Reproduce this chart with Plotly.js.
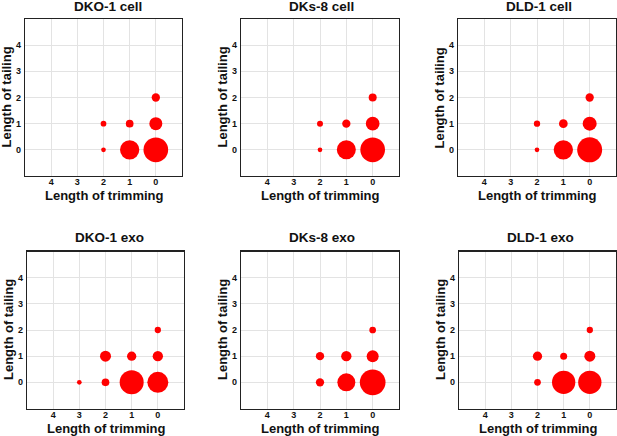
<!DOCTYPE html>
<html>
<head>
<meta charset="utf-8">
<script src="https://cdn.plot.ly/plotly-3.0.1.min.js"></script>
<style>html,body{margin:0;padding:0;background:#fff;}#chart{width:617px;height:436px;}</style>
</head>
<body>
<div id="chart"></div>
<script>
// Panel titles
const panelTitles = ["DKO-1 cell", "DKs-8 cell", "DLD-1 cell", "DKO-1 exo", "DKs-8 exo", "DLD-1 exo"];
const xTitle = "Length of trimming";
const yTitle = "Length of tailing";
const tickValues = [0, 1, 2, 3, 4];

// Data per panel: trimming length (x), tailing length (y), relative bubble size
const dko1CellTrim = [0, 1, 2, 0, 1, 2, 0];
const dko1CellTail = [0, 0, 0, 1, 1, 1, 2];
const dko1CellSize = [24.7, 19.3, 4.7, 13, 7.7, 5.7, 8.3];

const dks8CellTrim = [0, 1, 2, 0, 1, 2, 0];
const dks8CellTail = [0, 0, 0, 1, 1, 1, 2];
const dks8CellSize = [24.7, 19, 4.7, 13.7, 8.3, 6, 8];

const dld1CellTrim = [0, 1, 2, 0, 1, 2, 0];
const dld1CellTail = [0, 0, 0, 1, 1, 1, 2];
const dld1CellSize = [25, 19.3, 4.7, 14, 8.7, 6.3, 8.3];

const dko1ExoTrim = [0, 1, 2, 3, 0, 1, 2, 0];
const dko1ExoTail = [0, 0, 0, 0, 1, 1, 1, 2];
const dko1ExoSize = [21, 24, 7.7, 4.7, 10.3, 9.3, 11, 6.3];

const dks8ExoTrim = [0, 1, 2, 0, 1, 2, 0];
const dks8ExoTail = [0, 0, 0, 1, 1, 1, 2];
const dks8ExoSize = [25.7, 18, 8.3, 12, 10.3, 8.3, 6.7];

const dld1ExoTrim = [0, 1, 2, 0, 1, 2, 0];
const dld1ExoTail = [0, 0, 0, 1, 1, 1, 2];
const dld1ExoSize = [23.3, 23.3, 6.7, 11, 7, 9.3, 6.3];

const panels = [
  [dko1CellTrim, dko1CellTail, dko1CellSize],
  [dks8CellTrim, dks8CellTail, dks8CellSize],
  [dld1CellTrim, dld1CellTail, dld1CellSize],
  [dko1ExoTrim, dko1ExoTail, dko1ExoSize],
  [dks8ExoTrim, dks8ExoTail, dks8ExoSize],
  [dld1ExoTrim, dld1ExoTail, dld1ExoSize]
];

const W = 617, H = 436;
const FONT = "Liberation Sans, Arial, Helvetica, sans-serif";
// pixel boxes [left, right, top, bottom]
const boxes = [
  [25, 182, 19, 176], [241, 399, 19, 176], [458, 616, 19, 176],
  [27, 184, 251.5, 408.5], [241, 399, 251.5, 408.5], [459, 616, 251.5, 408.5]
];
const titleCx = [107.5, 321, 539, 109, 321.5, 540];

const data = [];
const layout = {
  width: W, height: H,
  margin: {l: 0, r: 0, t: 0, b: 0},
  paper_bgcolor: "#fff", plot_bgcolor: "#fff",
  showlegend: false,
  font: {family: FONT, color: "#000"},
  annotations: []
};

panels.forEach((p, i) => {
  const n = i === 0 ? "" : String(i + 1);
  const b = boxes[i];
  data.push({
    type: "scatter", mode: "markers",
    x: p[0], y: p[1],
    xaxis: "x" + n, yaxis: "y" + n,
    marker: {size: p[2], sizemode: "diameter", sizeref: 1, color: "#ff0000", opacity: 1, line: {width: 0}},
    hoverinfo: "x+y"
  });
  const common = {
    tickvals: tickValues, ticktext: tickValues.map(String),
    showgrid: true, gridcolor: "#e3e3e3", gridwidth: 1,
    zeroline: false, showline: true, linecolor: "#222", linewidth: 1.3, mirror: true,
    ticks: "",
    tickfont: {family: FONT, size: 9, color: "#111", weight: "bold"},
    fixedrange: true
  };
  layout["xaxis" + n] = Object.assign({}, common, {
    domain: [b[0] / W, b[1] / W], range: [5, -1], anchor: "y" + n, ticklabelstandoff: -3
  });
  layout["yaxis" + n] = Object.assign({}, common, {
    domain: [1 - b[3] / H, 1 - b[2] / H], range: [-1, 5], anchor: "x" + n, ticklabelstandoff: 1
  });
  const titleY = i < 3 ? 6.5 : 238;
  layout.annotations.push({
    text: "<b>" + panelTitles[i] + "</b>", xref: "paper", yref: "paper",
    x: titleCx[i] / W, y: 1 - titleY / H, xanchor: "center", yanchor: "middle",
    showarrow: false, font: {family: FONT, size: 13.5, color: "#111"}
  });
  layout.annotations.push({
    text: "<b>" + xTitle + "</b>", xref: "paper", yref: "paper",
    x: ((b[0] + b[1]) / 2) / W, y: 1 - (b[3] + 19.5) / H, xanchor: "center", yanchor: "middle",
    showarrow: false, font: {family: FONT, size: 13, color: "#111"}
  });
  layout.annotations.push({
    text: "<b>" + yTitle + "</b>", xref: "paper", yref: "paper",
    x: (b[0] - 19) / W, y: 1 - ((b[2] + b[3]) / 2) / H, xanchor: "center", yanchor: "middle",
    textangle: -90,
    showarrow: false, font: {family: FONT, size: 13, color: "#111"}
  });
});

Plotly.newPlot("chart", data, layout, {displayModeBar: false, staticPlot: true});
</script>
</body>
</html>
